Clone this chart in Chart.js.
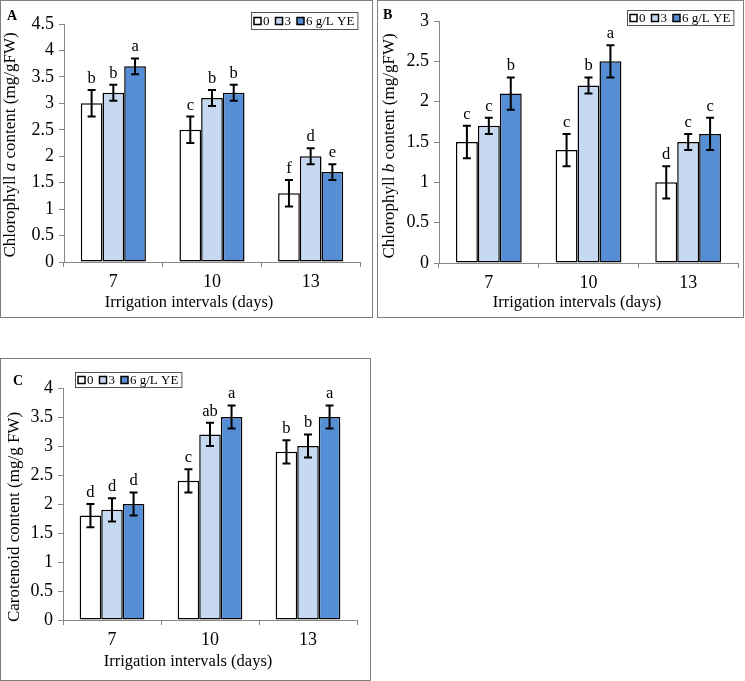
<!DOCTYPE html>
<html>
<head>
<meta charset="utf-8">
<script src="https://cdn.jsdelivr.net/npm/chart.js@4.4.1/dist/chart.umd.min.js"></script>
<style>
  body { margin: 0; background: #fff; width: 745px; height: 681px; position: relative; overflow: hidden; }
  .box { position: absolute; border: 1px solid #7f7f7f; box-sizing: border-box; }
  canvas { position: absolute; }
</style>
</head>
<body>
<div class="box" style="left:0;top:0;width:373px;height:318px"></div>
<div class="box" style="left:377px;top:0;width:367px;height:318px"></div>
<div class="box" style="left:0;top:358px;width:371px;height:323px"></div>
<canvas id="chartA" width="373" height="318" style="left:0;top:0"></canvas>
<canvas id="chartB" width="367" height="318" style="left:377px;top:0"></canvas>
<canvas id="chartC" width="371" height="323" style="left:0;top:358px"></canvas>
<script>
const FONT = '"Liberation Serif", "Times New Roman", serif';

const days = ['7', '10', '13'];
const doses = ['0', '3', '6 g/L YE'];
const colours = ['#ffffff', '#c6d9f1', '#558ed5'];

// A: chlorophyll a (mg/gFW)
const chlA0 = [3.0, 2.5, 1.3];
const chlA3 = [3.2, 3.1, 2.0];
const chlA6 = [3.7, 3.2, 1.7];
const chlAErr0 = [0.25, 0.25, 0.25];
const chlAErr3 = [0.15, 0.15, 0.15];
const chlAErr6 = [0.15, 0.15, 0.15];
const chlAMark0 = ['b', 'c', 'f'];
const chlAMark3 = ['b', 'b', 'd'];
const chlAMark6 = ['a', 'b', 'e'];

// B: chlorophyll b (mg/gFW)
const chlB0 = [1.5, 1.4, 1.0];
const chlB3 = [1.7, 2.2, 1.5];
const chlB6 = [2.1, 2.5, 1.6];
const chlBErr0 = [0.2, 0.2, 0.2];
const chlBErr3 = [0.1, 0.1, 0.1];
const chlBErr6 = [0.2, 0.2, 0.2];
const chlBMark0 = ['c', 'c', 'd'];
const chlBMark3 = ['c', 'b', 'c'];
const chlBMark6 = ['b', 'a', 'c'];

// C: carotenoids (mg/g FW)
const car0 = [1.8, 2.4, 2.9];
const car3 = [1.9, 3.2, 3.0];
const car6 = [2.0, 3.5, 3.5];
const carErr0 = [0.2, 0.2, 0.2];
const carErr3 = [0.2, 0.2, 0.2];
const carErr6 = [0.2, 0.2, 0.2];
const carMark0 = ['d', 'c', 'b'];
const carMark3 = ['d', 'ab', 'b'];
const carMark6 = ['d', 'a', 'a'];

// error bars + significance letters
const errorBars = {
  id: 'errorBars',
  afterDatasetsDraw(chart) {
    const ctx = chart.ctx;
    const y = chart.scales.y;
    ctx.save();
    ctx.strokeStyle = '#000';
    ctx.lineWidth = 2;
    ctx.fillStyle = '#000';
    ctx.font = '16.5px ' + FONT;
    ctx.textAlign = 'center';
    ctx.textBaseline = 'alphabetic';
    chart.data.datasets.forEach((ds, i) => {
      chart.getDatasetMeta(i).data.forEach((bar, j) => {
        const v = ds.data[j], e = ds.errors[j];
        const top = y.getPixelForValue(v + e);
        const bot = y.getPixelForValue(v - e);
        ctx.beginPath();
        ctx.moveTo(bar.x, top); ctx.lineTo(bar.x, bot);
        ctx.moveTo(bar.x - 4, top); ctx.lineTo(bar.x + 4, top);
        ctx.moveTo(bar.x - 4, bot); ctx.lineTo(bar.x + 4, bot);
        ctx.stroke();
        ctx.fillText(ds.letters[j], bar.x, top - 7);
      });
    });
    ctx.restore();
  }
};

// boxed legend, axis titles and panel tag
const decorations = {
  id: 'decorations',
  afterDraw(chart, args, opts) {
    const ctx = chart.ctx;
    ctx.save();
    ctx.fillStyle = '#000';

    // legend
    const lg = opts.legend;
    ctx.font = '13px ' + FONT;
    const sets = chart.data.datasets;
    const widths = sets.map(d => ctx.measureText(d.label).width);
    let total = 3;
    widths.forEach((w, i) => { total += 9 + w + (i < widths.length - 1 ? 6 : 3); });
    ctx.strokeStyle = '#555';
    ctx.lineWidth = 1;
    ctx.strokeRect(lg.x + 0.5, lg.y + 0.5, total, lg.h);
    const cy = lg.y + lg.h / 2 + 0.5;
    let x = lg.x + 3;
    ctx.textBaseline = 'middle';
    ctx.textAlign = 'left';
    sets.forEach((d, i) => {
      ctx.fillStyle = d.backgroundColor;
      ctx.fillRect(x, cy - 3.5, 7, 7);
      ctx.strokeStyle = '#000';
      ctx.lineWidth = 1.5;
      ctx.strokeRect(x, cy - 3.5, 7, 7);
      ctx.fillStyle = '#000';
      ctx.fillText(d.label, x + 9, cy + 0.5);
      x += 9 + widths[i] + 6;
    });

    // x title
    const xt = opts.xTitle;
    ctx.font = '16.5px ' + FONT;
    ctx.textAlign = 'center';
    ctx.fillText(xt.text, xt.cx, xt.cy);

    // y title, with an italic part
    const yt = opts.yTitle;
    const fonts = yt.parts.map(p => (p.italic ? 'italic ' : '') + '17px ' + FONT);
    const pw = yt.parts.map((p, i) => { ctx.font = fonts[i]; return ctx.measureText(p.text).width; });
    const len = pw.reduce((a, b) => a + b, 0);
    ctx.translate(yt.cx, yt.cy);
    ctx.rotate(-Math.PI / 2);
    ctx.textAlign = 'left';
    let px = -len / 2;
    yt.parts.forEach((p, i) => {
      ctx.font = fonts[i];
      ctx.fillText(p.text, px, 0);
      px += pw[i];
    });
    ctx.setTransform(1, 0, 0, 1, 0, 0);

    // panel tag
    ctx.font = 'bold 14px ' + FONT;
    ctx.textBaseline = 'alphabetic';
    ctx.textAlign = 'left';
    ctx.fillText(opts.tag.text, opts.tag.x, opts.tag.y);
    ctx.restore();
  }
};

function makeChart(id, cfg) {
  const axisGrey = '#868686';
  return new Chart(document.getElementById(id), {
    type: 'bar',
    data: {
      labels: days,
      datasets: cfg.values.map((vals, i) => ({
        label: doses[i],
        data: vals,
        errors: cfg.errors[i],
        letters: cfg.letters[i],
        backgroundColor: colours[i],
        borderColor: '#000',
        borderWidth: 1.5,
        borderSkipped: false,
        categoryPercentage: 0.66,
        barPercentage: 1
      }))
    },
    options: {
      responsive: false,
      animation: false,
      layout: { padding: cfg.pad },
      plugins: {
        legend: { display: false },
        tooltip: { enabled: false },
        decorations: cfg.deco
      },
      scales: {
        x: {
          grid: { drawOnChartArea: false, tickLength: 5, color: axisGrey, offset: true },
          border: { color: axisGrey, width: 1 },
          ticks: { color: '#000', font: { family: FONT, size: 18 }, padding: 4 },
          afterFit: s => { s.height = cfg.xH; }
        },
        y: {
          min: 0,
          max: cfg.max,
          grid: { drawOnChartArea: false, tickLength: 5, color: axisGrey },
          border: { color: axisGrey, width: 1 },
          ticks: {
            stepSize: 0.5, color: '#000', font: { family: FONT, size: 18 }, padding: 5,
            callback: v => String(Math.round(v * 10) / 10)
          },
          afterFit: s => { s.width = cfg.yW; }
        }
      }
    },
    plugins: [errorBars, decorations]
  });
}

makeChart('chartA', {
  values: [chlA0, chlA3, chlA6],
  errors: [chlAErr0, chlAErr3, chlAErr6],
  letters: [chlAMark0, chlAMark3, chlAMark6],
  max: 4.5,
  pad: { left: 1, right: 13, top: 24, bottom: 5 },
  yW: 63, xH: 51,
  deco: {
    legend: { x: 251, y: 12, h: 17 },
    xTitle: { text: 'Irrigation intervals (days)', cx: 189, cy: 303 },
    yTitle: { cx: 11, cy: 145, parts: [{ text: 'Chlorophyll ' }, { text: 'a', italic: true }, { text: ' content (mg/gFW)' }] },
    tag: { text: 'A', x: 7, y: 20 }
  }
});

makeChart('chartB', {
  values: [chlB0, chlB3, chlB6],
  errors: [chlBErr0, chlBErr3, chlBErr6],
  letters: [chlBMark0, chlBMark3, chlBMark6],
  max: 3,
  pad: { left: 3, right: 6, top: 21, bottom: 5 },
  yW: 59, xH: 50,
  deco: {
    legend: { x: 250, y: 10, h: 15 },
    xTitle: { text: 'Irrigation intervals (days)', cx: 200, cy: 303 },
    yTitle: { cx: 13, cy: 146, parts: [{ text: 'Chlorophyll ' }, { text: 'b', italic: true }, { text: ' content (mg/gFW)' }] },
    tag: { text: 'B', x: 6, y: 19 }
  }
});

makeChart('chartC', {
  values: [car0, car3, car6],
  errors: [carErr0, carErr3, carErr6],
  letters: [carMark0, carMark3, carMark6],
  max: 4,
  pad: { left: 4, right: 14, top: 30, bottom: 9 },
  yW: 59, xH: 52,
  deco: {
    legend: { x: 75, y: 14, h: 15 },
    xTitle: { text: 'Irrigation intervals (days)', cx: 188, cy: 304 },
    yTitle: { cx: 15, cy: 159, parts: [{ text: 'Carotenoid content (mg/g FW)' }] },
    tag: { text: 'C', x: 13, y: 27 }
  }
});
</script>
</body>
</html>
